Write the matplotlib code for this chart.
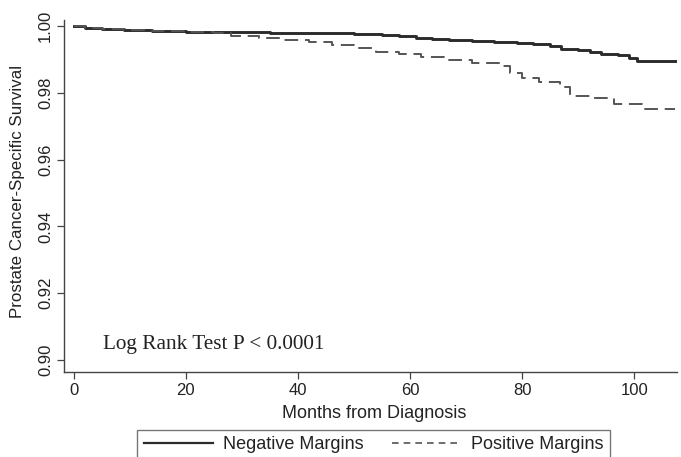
import matplotlib
matplotlib.use("Agg")
import matplotlib.pyplot as plt
from matplotlib.lines import Line2D

# Kaplan-Meier estimates
neg_months = [0, 2, 5, 9, 14, 20, 27, 35, 44, 50, 55, 58, 61, 64, 67, 71,
              75, 79, 82, 85, 87, 90, 92, 94, 97, 99, 100.5, 107.3]
neg_surv = [1.0, 0.9995, 0.9991, 0.9988, 0.9985, 0.9983, 0.9981, 0.9980,
            0.9978, 0.9976, 0.9973, 0.9969, 0.9965, 0.9961, 0.9958, 0.9955,
            0.9952, 0.9948, 0.9945, 0.9940, 0.9931, 0.9928, 0.9922, 0.9916,
            0.9912, 0.9903, 0.9895, 0.9895]

pos_months = [0, 2, 5, 9, 14, 20, 25, 28, 33, 37, 42, 46, 50, 54, 58, 62,
              66, 71, 76, 77.8, 80, 83, 86.8, 88.5, 92, 96.3, 101.3, 107.3]
pos_surv = [1.0, 0.9995, 0.9991, 0.9988, 0.9985, 0.9982, 0.9978, 0.9971,
            0.9965, 0.9958, 0.9952, 0.9943, 0.9935, 0.9923, 0.9916, 0.9908,
            0.9898, 0.9888, 0.9881, 0.9858, 0.9845, 0.9833, 0.9816, 0.9790,
            0.9785, 0.9766, 0.9751, 0.9751]

x_ticks = [0, 20, 40, 60, 80, 100]
y_ticks = [0.90, 0.92, 0.94, 0.96, 0.98, 1.00]
series_labels = ["Negative Margins", "Positive Margins"]

plt.rcParams["font.family"] = ["Liberation Sans", "DejaVu Sans"]
ink = "#222222"

fig = plt.figure(figsize=(6.81, 4.57), dpi=100)
ax = fig.add_axes([64 / 681, 1 - 372 / 457, (677 - 64) / 681, (372 - 20) / 457])

ax.step(neg_months, neg_surv, where="post", color="#2b2b2b", lw=2.1)
ax.step(pos_months, pos_surv, where="post", color="#555555", lw=1.4,
        linestyle=(0, (7, 3.5)))

ax.set_xlim(-1.7, 107.6)
ax.set_ylim(0.8964, 1.0018)
ax.set_xticks(x_ticks)
ax.set_yticks(y_ticks)
ax.set_yticklabels([f"{v:.2f}" for v in y_ticks], rotation=90, va="center",
                   fontsize=12, color=ink,
                   family=["Liberation Sans Narrow", "Liberation Sans"])
ax.set_xticklabels([str(v) for v in x_ticks], fontsize=12, color=ink)
ax.tick_params(direction="out", length=5, width=0.9, color="#444444", pad=3)

for side in ("top", "right"):
    ax.spines[side].set_visible(False)
for side in ("left", "bottom"):
    ax.spines[side].set_color("#444444")
    ax.spines[side].set_linewidth(1.0)

ax.set_xlabel("Months from Diagnosis", fontsize=13, color=ink, labelpad=2)
ax.xaxis.set_label_coords(0.5065, -0.095)
ax.set_ylabel("Prostate Cancer-Specific Survival", fontsize=12.2, color=ink)
ax.yaxis.set_label_coords(-0.063, 0.514)

ax.text(5.2, 0.9033, "Log Rank Test P < 0.0001", family="Liberation Serif",
        fontsize=15.3, color=ink, va="baseline", ha="left")

handles = [
    Line2D([], [], color="#2b2b2b", lw=1.6),
    Line2D([], [], color="#555555", lw=1.2, linestyle=(0, (4, 3))),
]
leg = fig.legend(handles, series_labels, loc="upper center", ncol=2,
                 bbox_to_anchor=(373.5 / 681, 1 - 430 / 457), fontsize=13,
                 frameon=True, fancybox=False, edgecolor="#555555",
                 handlelength=3.85, handletextpad=0.55, columnspacing=1.55,
                 borderpad=0.35, borderaxespad=0, labelcolor=ink)
leg.get_frame().set_linewidth(1.0)

fig.savefig("out.png", dpi=100)
